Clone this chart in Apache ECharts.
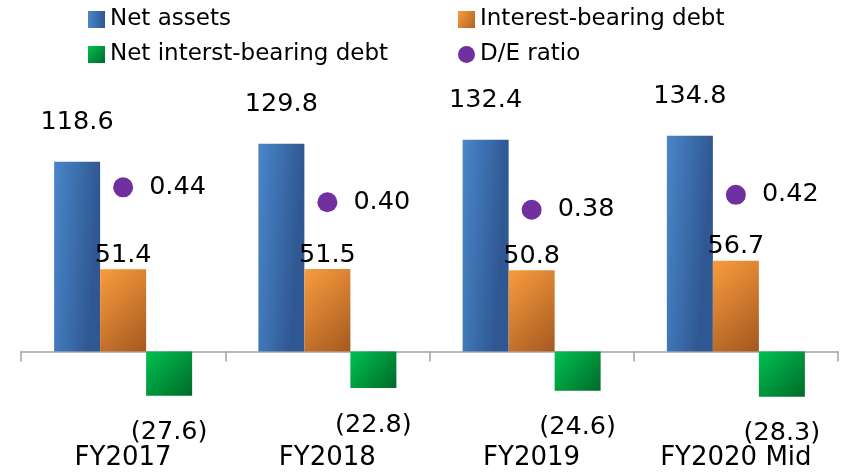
<!DOCTYPE html>
<html>
<head>
<meta charset="utf-8">
<title>Net assets and debt</title>
<script src="https://cdn.jsdelivr.net/npm/echarts@6/dist/echarts.min.js"></script>
<style>
  html, body { margin: 0; padding: 0; background: #fff; }
  #chart { width: 844px; height: 473px; }
</style>
</head>
<body>
<div id="chart"></div>
<script>
// data
var categories = ['FY2017', 'FY2018', 'FY2019', 'FY2020 Mid'];
var netAssets = [118.6, 129.8, 132.4, 134.8];
var interestDebt = [51.4, 51.5, 50.8, 56.7];
var netInterestDebt = [-27.6, -22.8, -24.6, -28.3];
var deRatio = [0.44, 0.40, 0.38, 0.42];

var FONT = 'DejaVu Sans';

function grad(c1, c2, x2, y2) {
  return new echarts.graphic.LinearGradient(0, 0, x2, y2, [
    { offset: 0, color: c1 },
    { offset: 1, color: c2 }
  ]);
}

var chart = echarts.init(document.getElementById('chart'));

var legendText = { fontFamily: FONT, fontSize: 23, color: '#000', lineHeight: 23 };

chart.setOption({
  animation: false,
  textStyle: { fontFamily: FONT },
  legend: [
    {
      orient: 'vertical', left: 88, top: 8, padding: 0, itemGap: 12,
      itemWidth: 17, itemHeight: 17,
      textStyle: legendText,
      data: [{ name: 'Net assets', icon: 'rect' }, { name: 'Net interst-bearing debt', icon: 'rect' }]
    },
    {
      orient: 'vertical', left: 458, top: 8, padding: 0, itemGap: 12,
      itemWidth: 17, itemHeight: 17,
      textStyle: legendText,
      data: [{ name: 'Interest-bearing debt', icon: 'rect' }, { name: 'D/E ratio', icon: 'circle' }]
    }
  ],
  grid: { left: 21, right: 6, top: 111.5, height: 336, containLabel: false, outerBoundsMode: 'none' },
  xAxis: {
    type: 'category',
    data: categories,
    axisLine: { lineStyle: { color: '#a3a3a3', width: 1.5 } },
    axisTick: { show: true, length: 10, lineStyle: { color: '#a3a3a3', width: 1.5 } },
    // labels sit under the grid bottom, not under the zero line
    axisLabel: { fontFamily: FONT, fontSize: 26, color: '#000', margin: -2, lineHeight: 26 },
    splitLine: { show: false }
  },
  yAxis: [
    { type: 'value', min: -60, max: 150, show: false, splitLine: { show: false } },
    { type: 'value', min: -0.2574, max: 0.6434, show: false, splitLine: { show: false } }
  ],
  series: [
    {
      name: 'Net assets', type: 'bar', data: netAssets,
      barWidth: 46, barGap: '0%',
      itemStyle: { color: grad('#4a86ca', '#2f5892', 1, 0.015) },
      label: {
        show: true, position: 'top', distance: 26,
        fontFamily: FONT, fontSize: 25.5, lineHeight: 26, color: '#000',
        formatter: function (p) { return p.value.toFixed(1); }
      }
    },
    {
      name: 'Interest-bearing debt', type: 'bar', data: interestDebt,
      barWidth: 46, barGap: '0%',
      itemStyle: { color: grad('#f99c3e', '#a4581f', 1.4, 0.8) },
      label: {
        show: true, position: 'top', distance: 1,
        fontFamily: FONT, fontSize: 25.5, lineHeight: 26, color: '#000',
        formatter: function (p) { return p.value.toFixed(1); }
      }
    },
    {
      name: 'Net interst-bearing debt', type: 'bar', data: netInterestDebt,
      barWidth: 46, barGap: '0%',
      itemStyle: { color: grad('#00c151', '#006a28', 1, 1) },
      label: {
        show: true, position: 'bottom', distance: 24,
        fontFamily: FONT, fontSize: 25.5, lineHeight: 26, color: '#000',
        formatter: function (p) { return '(' + Math.abs(p.value).toFixed(1) + ')'; }
      }
    },
    {
      name: 'D/E ratio', type: 'scatter', yAxisIndex: 1, data: deRatio,
      symbol: 'circle', symbolSize: 20,
      itemStyle: { color: '#7030a0', opacity: 1 },
      label: {
        show: true, position: 'right', distance: 16,
        fontFamily: FONT, fontSize: 25.5, lineHeight: 26, color: '#000',
        formatter: function (p) { return p.value.toFixed(2); }
      }
    }
  ]
});
</script>
</body>
</html>
